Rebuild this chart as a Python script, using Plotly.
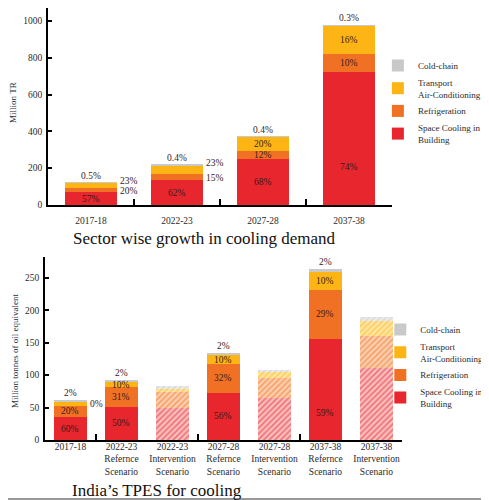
import plotly.graph_objects as go

# ---------------- data ----------------
years = ["2017-18", "2022-23", "2027-28", "2037-38"]
top_space = [68, 134.5, 251.5, 720]
top_refrig = [24, 32.5, 44.5, 97.5]
top_transport = [27.5, 50, 74, 155.5]
top_cold = [0.6, 0.9, 1.5, 3]
top_space_lbl = ["57%", "62%", "68%", "74%"]
top_refrig_lbl = ["20%", "15%", "12%", "10%"]
top_transport_lbl = ["23%", "23%", "20%", "16%"]
top_cold_lbl = ["0.5%", "0.4%", "0.4%", "0.3%"]

bot_cats = ["2017-18",
            "2022-23<br>Refernce<br>Scenario", "2022-23<br>Intervention<br>Scenario",
            "2027-28<br>Refernce<br>Scenario", "2027-28<br>Intervention<br>Scenario",
            "2037-38<br>Refernce<br>Scenario", "2037-38<br>Intervention<br>Scenario"]
bot_intervention = [False, False, True, False, True, False, True]
bot_space = [35, 51, 49, 73, 64, 156, 111]
bot_refrig = [18, 30, 25, 44, 32, 75, 50]
bot_transport = [6.5, 9, 6, 14, 9, 28, 22]
bot_cold = [1.5, 2.5, 3, 3.5, 3.5, 4, 6]
bot_space_lbl = ["60%", "50%", "", "56%", "", "59%", ""]
bot_refrig_lbl = ["20%", "31%", "", "32%", "", "29%", ""]
bot_transport_lbl = ["0%", "10%", "", "10%", "", "10%", ""]
bot_cold_lbl = ["2%", "2%", "", "2%", "", "2%", ""]

names = ["Space Cooling in<br>Building", "Refrigeration",
         "Transport<br>Air-Conditioning", "Cold-chain"]

# ---------------- style ----------------
colors = ["#e8262d", "#f07124", "#fdb515", "#c9c9c9"]
tints = ["#f9c0c0", "#fbd0b0", "#fee6a6", "#ebebeb"]
FONT = "Liberation Serif"
TXT = "#2b2b2b"
LBL = dict(family=FONT, size=9.5, color="#3a1a1a")

# label placement: 'in' (segment middle), 'right' (beside segment middle),
# 'right-top' (beside segment top), 'above' (above bar)
top_modes = [["in"] * 4,
             ["right", "right", "in", "in"],
             ["right-top", "right-top", "in", "in"],
             ["above"] * 4]
bot_modes = [["in"] * 7,
             ["in"] * 7,
             ["right"] + ["in"] * 6,
             ["above"] * 7]
top_frac = {(0, 3): 0.29}
bot_frac = {(0, 5): 0.27}

fig = go.Figure()

top_series = [top_space, top_refrig, top_transport, top_cold]
top_labels = [top_space_lbl, top_refrig_lbl, top_transport_lbl, top_cold_lbl]
for i, vals in enumerate(top_series):
    fig.add_trace(go.Bar(x=years, y=vals, name=names[i], width=0.6,
                         marker=dict(color=colors[i], line=dict(width=0)),
                         xaxis="x", yaxis="y", legend="legend", hoverinfo="skip"))

bot_series = [bot_space, bot_refrig, bot_transport, bot_cold]
bot_labels = [bot_space_lbl, bot_refrig_lbl, bot_transport_lbl, bot_cold_lbl]
for i, vals in enumerate(bot_series):
    shapes = ["/" if iv else "" for iv in bot_intervention]
    fig.add_trace(go.Bar(x=bot_cats, y=vals, name=names[i], width=0.66,
                         marker=dict(color=colors[i], line=dict(width=0),
                                     pattern=dict(shape=shapes, fgcolor=colors[i],
                                                  bgcolor=tints[i], size=4, solidity=0.45)),
                         xaxis="x2", yaxis="y2", legend="legend2", hoverinfo="skip"))

# empty traces for the boundary-tick overlay axes
fig.add_trace(go.Scatter(x=[], y=[], xaxis="x3", yaxis="y", showlegend=False))
fig.add_trace(go.Scatter(x=[], y=[], xaxis="x4", yaxis="y2", showlegend=False))


def add_labels(cats, series, labels, modes, fracs, xref, yref, half_px):
    for j, c in enumerate(cats):
        base = 0
        total = sum(s[j] for s in series)
        for i, s in enumerate(series):
            v = s[j]
            t = labels[i][j]
            m = modes[i][j]
            if t:
                if m == "in":
                    f = fracs.get((i, j), 0.5)
                    fig.add_annotation(x=c, y=base + v * f, xref=xref, yref=yref, text=t,
                                       showarrow=False, font=LBL, yanchor="middle")
                elif m == "right":
                    fig.add_annotation(x=c, y=base + v / 2, xref=xref, yref=yref, text=t,
                                       showarrow=False, font=LBL, xanchor="left",
                                       xshift=half_px + 1, yanchor="middle", yshift=-1)
                elif m == "right-top":
                    fig.add_annotation(x=c, y=base + v, xref=xref, yref=yref, text=t,
                                       showarrow=False, font=LBL, xanchor="left",
                                       xshift=half_px + 1, yanchor="middle", yshift=2)
                elif m == "above":
                    fig.add_annotation(x=c, y=total, xref=xref, yref=yref, text=t,
                                       showarrow=False, font=LBL, yanchor="bottom", yshift=0)
            base += v


add_labels(years, top_series, top_labels, top_modes, top_frac, "x", "y", 26)
add_labels(bot_cats, bot_series, bot_labels, bot_modes, bot_frac, "x2", "y2", 17)

# titles
fig.add_annotation(x=0.4075, y=0.5325, xref="paper", yref="paper",
                   xanchor="center", yanchor="middle",
                   text="Sector wise growth in cooling demand", showarrow=False,
                   font=dict(family=FONT, size=17, color="#111"))
fig.add_annotation(x=0.129, y=0.0203, xref="paper", yref="paper",
                   xanchor="left", yanchor="middle",
                   text="India’s TPES for cooling", showarrow=False,
                   font=dict(family=FONT, size=17, color="#111"))
fig.add_annotation(x=0.0104, y=0.807, xref="paper", yref="paper", textangle=-90,
                   xanchor="center", yanchor="middle",
                   text="Million TR", showarrow=False,
                   font=dict(family=FONT, size=9, color=TXT))
fig.add_annotation(x=0.0146, y=0.3028, xref="paper", yref="paper", textangle=-90,
                   xanchor="center", yanchor="middle",
                   text="Million tonnes of oil equivalent", showarrow=False,
                   font=dict(family=FONT, size=9, color=TXT))

axis_common = dict(showline=True, linecolor="black", linewidth=1.5, showgrid=False,
                   zeroline=False, tickfont=dict(family=FONT, size=9.5, color=TXT))

fig.update_layout(
    width=481, height=492,
    margin=dict(l=0, r=0, t=0, b=0, autoexpand=False),
    paper_bgcolor="white", plot_bgcolor="white",
    barmode="stack", bargap=0,
    font=dict(family=FONT, color=TXT),
    xaxis=dict(domain=[0.0832, 0.7983], anchor="y", type="category",
               range=[-0.5, 3.5], ticks="", ticklabelstandoff=6, **axis_common),
    yaxis=dict(domain=[0.5996, 1.0], anchor="x", range=[0, 1070], dtick=200,
               ticks="inside", ticklen=4, tickwidth=1.5, tickcolor="black",
               ticklabelstandoff=2, **axis_common),
    xaxis3=dict(overlaying="x", anchor="y", range=[-0.5, 3.5], showline=False,
                showgrid=False, zeroline=False, showticklabels=False,
                tickmode="array", tickvals=[0.5, 1.5, 2.5], ticks="inside",
                ticklen=6, tickwidth=1.5, tickcolor="black"),
    xaxis2=dict(domain=[0.0769, 0.8191], anchor="y2", type="category",
                range=[-0.5, 6.5], ticks="", ticklabelstandoff=-3, **axis_common),
    yaxis2=dict(domain=[0.122, 0.4939], anchor="x2", range=[0, 282], dtick=50,
                ticks="inside", ticklen=4, tickwidth=1.5, tickcolor="black",
                ticklabelstandoff=2, **axis_common),
    xaxis4=dict(overlaying="x2", anchor="y2", range=[-0.5, 6.5], showline=False,
                showgrid=False, zeroline=False, showticklabels=False,
                tickmode="array", tickvals=[0.5, 2.5, 4.5], ticks="inside",
                ticklen=6, tickwidth=1.5, tickcolor="black"),
    legend=dict(x=0.769, y=0.9126, xanchor="left", yanchor="top", traceorder="reversed",
                font=dict(family=FONT, size=9, color=TXT), bgcolor="rgba(0,0,0,0)"),
    legend2=dict(x=0.774, y=0.376, xanchor="left", yanchor="top", traceorder="reversed",
                 font=dict(family=FONT, size=9, color=TXT), bgcolor="rgba(0,0,0,0)"),
    shapes=[
        dict(type="line", xref="paper", yref="paper", x0=0, x1=1, y0=0.002, y1=0.002,
             line=dict(color="#777", width=1.5)),
    ],
)

fig.write_html("out.html")
